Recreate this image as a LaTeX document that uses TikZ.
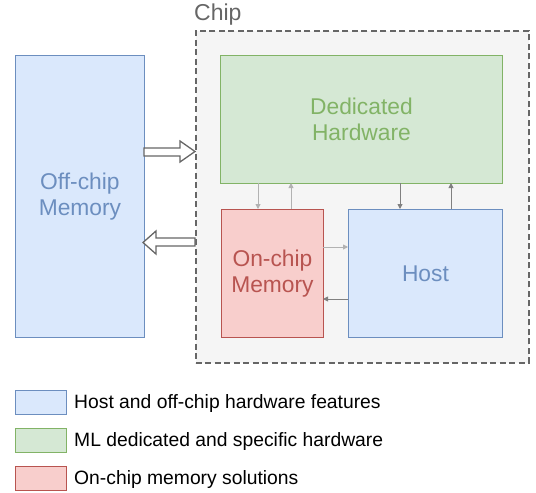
\documentclass[tikz,border=0pt]{standalone}
\usepackage{fontspec}
\setmainfont{Liberation Sans}
\usetikzlibrary{arrows.meta}
\definecolor{bluef}{HTML}{DAE8FC}\definecolor{bluel}{HTML}{6C8EBF}
\definecolor{greenf}{HTML}{D5E8D4}\definecolor{greenl}{HTML}{82B366}
\definecolor{redf}{HTML}{F8CECC}\definecolor{redl}{HTML}{B85450}
\definecolor{chipf}{HTML}{F5F5F5}\definecolor{chipl}{HTML}{666666}
\begin{document}
\begin{tikzpicture}[x=1pt,y=-1pt,
  box/.style={draw, line width=0.9pt, inner sep=0pt, align=center, font=\fontsize{22.8}{26.5}\selectfont},
  bluebox/.style={box, fill=bluef, draw=bluel, text=bluel},
  greenbox/.style={box, fill=greenf, draw=greenl, text=greenl},
  redbox/.style={box, fill=redf, draw=redl, text=redl},
  conn/.style={line width=0.9pt, -{Triangle[length=5pt,width=5pt]}},
  lightc/.style={conn, draw=black!30, fill=black!30},
  darkc/.style={conn, draw=black!50, fill=black!50},
  blockarrow/.style={draw=chipl, fill=white, line width=1.3pt, line join=miter},
  legtext/.style={anchor=west, inner sep=0pt, font=\fontsize{19.3}{22}\selectfont}
]
\useasboundingbox (0,0) rectangle (536,493);
% chip
\node[draw=chipl, fill=chipf, line width=1.6pt, dash pattern=on 6pt off 3.5pt,
  minimum width=333pt, minimum height=332pt, anchor=north west, inner sep=0pt] (chip) at (195,30) {};
\node[anchor=south west, inner sep=0pt, text=chipl, font=\fontsize{23}{26}\selectfont] (chiplbl) at (194,25) {Chip};
% boxes
\node[bluebox, minimum width=129pt, minimum height=282pt, anchor=north west] (off) at (15,55) {Off-chip\\Memory};
\node[greenbox, minimum width=282pt, minimum height=128pt, anchor=north west] (ded) at (220,55) {Dedicated\\Hardware};
\node[redbox, minimum width=102pt, minimum height=128pt, anchor=north west] (onm) at (221,209) {On-chip\\Memory};
\node[bluebox, minimum width=154pt, minimum height=128pt, anchor=north west] (host) at (348,209) {Host};
% connectors
\coordinate (a1) at (258,183); \coordinate (a2) at (291,183);
\coordinate (a3) at (400,183); \coordinate (a4) at (451,183);
\draw[lightc] (a1) -- (a1 |- onm.north);
\draw[lightc] (a2 |- onm.north) -- (a2);
\draw[darkc] (a3) -- (a3 |- host.north);
\draw[darkc] (a4 |- host.north) -- (a4);
\coordinate (b1) at (323,247); \coordinate (b2) at (323,299);
\draw[lightc] (b1) -- (b1 -| host.west);
\draw[darkc] (b2 -| host.west) -- (b2);
% block arrows
\draw[blockarrow] (144,148) -- (180,148) -- (180,141) -- (195,151.5) -- (180,162) -- (180,156) -- (144,156) -- cycle;
\draw[blockarrow] (195,238) -- (156,238) -- (156,231) -- (143,242.5) -- (156,254) -- (156,246) -- (195,246) -- cycle;
% legend
\node[bluebox, minimum width=51pt, minimum height=24pt, anchor=north west] (l1) at (15,390) {};
\node[greenbox, minimum width=51pt, minimum height=24pt, anchor=north west] (l2) at (15,428) {};
\node[redbox, minimum width=51pt, minimum height=24pt, anchor=north west] (l3) at (15,466) {};
\node[legtext] (t1) at (74,403.5) {Host and off-chip hardware features};
\node[legtext] (t2) at (74,441.5) {ML dedicated and specific hardware};
\node[legtext] (t3) at (74,479.5) {On-chip memory solutions};
\end{tikzpicture}
\end{document}
